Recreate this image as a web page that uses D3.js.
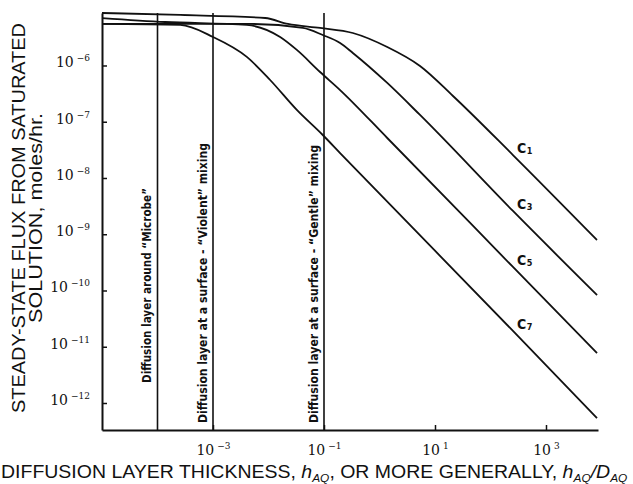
<!DOCTYPE html>
<html lang="en">
<head>
<meta charset="UTF-8">
<title>Steady-state flux vs diffusion layer thickness</title>
<script src="https://d3js.org/d3.v7.min.js"></script>
<style>
    body {
        margin: 0;
        background-color: #ffffff;
    }
    svg {
        display: block;
    }
    .axis path, .axis line {
        stroke: #111;
    }
    .axis path {
        stroke-width: 2;
    }
    .axis line {
        stroke-width: 1.5;
    }
    .tick-label {
        font-family: "DejaVu Serif", "Liberation Serif", serif;
        font-size: 14px;
        fill: #111;
    }
    .curve {
        fill: none;
        stroke: #111;
        stroke-width: 1.8;
    }
    .region-line {
        stroke: #111;
        stroke-width: 1.6;
    }
    .region-label, .curve-label {
        font-family: "DejaVu Sans Condensed", "Liberation Sans Narrow", sans-serif;
        font-weight: bold;
        fill: #111;
    }
    .axis-title {
        font-family: "Liberation Sans", Arial, sans-serif;
        fill: #111;
    }
</style>
</head>
<body>
<svg width="633" height="484"></svg>
<script>
    // Data (h in cm or h/D, flux in moles/hr)
    const hTicks = [1e-3, 1e-1, 1e1, 1e3];
    const hTickExp = ["\u22123", "\u22121", "1", "3"];
    const fluxTicks = [1e-6, 1e-7, 1e-8, 1e-9, 1e-10, 1e-11, 1e-12];
    const fluxTickExp = ["\u22126", "\u22127", "\u22128", "\u22129", "\u221210", "\u221211", "\u221212"];

    const regionH = [1e-4, 1e-3, 1e-1];
    const regionLabels = [
        "Diffusion layer around \u201CMicrobe\u201D",
        "Diffusion layer at a surface - \u201CViolent\u201D mixing",
        "Diffusion layer at a surface - \u201CGentle\u201D mixing"
    ];

    const curveNames = ["1", "3", "5", "7"];
    const c1 = [[1e-5, 8.57e-6], [2.57e-4, 7.91e-6], [8.7e-3, 6.98e-6], [2.24e-2, 5.47e-6], [8.5e-2, 4.65e-6],
                [0.331, 3.78e-6], [1.38, 2.13e-6], [5.37, 9.8e-7], [21.1, 2.87e-7],
                [254, 2.56e-8], [8300, 7.9e-10]];
    const c3 = [[1e-5, 5.47e-6], [4.68e-3, 5.47e-6], [4.17e-2, 4.65e-6], [9.5e-2, 3.48e-6], [0.195, 2.51e-6],
                [0.331, 1.67e-6], [1.38, 4.89e-7], [5.37, 1.32e-7], [254, 2.59e-9], [8300, 8.3e-11]];
    const c5 = [[1e-5, 6.98e-6], [1.38e-4, 5.93e-6], [4.07e-3, 5.25e-6], [1.62e-2, 3.21e-6], [3.24e-2, 1.89e-6],
                [8.5e-2, 7.66e-7], [0.195, 3.66e-7], [1.38, 5.14e-8], [254, 2.62e-10], [8300, 7.7e-12]];
    const c7 = [[1e-5, 5.47e-6], [2.57e-4, 5.25e-6], [1e-3, 3.21e-6], [4.07e-3, 1.42e-6], [1.07e-2, 5.52e-7],
                [3.24e-2, 1.62e-7], [9.5e-2, 5.81e-8], [0.195, 2.78e-8], [254, 1.91e-11], [8300, 5.4e-13]];
    const curves = [c1, c3, c5, c7];

    // Layout
    const margin = {top: 13, right: 35, bottom: 54, left: 102},
          width = 633 - margin.left - margin.right,
          height = 484 - margin.top - margin.bottom;

    const root = d3.select("svg");
    const svg = root.append("g")
                    .attr("transform", `translate(${margin.left},${margin.top})`);

    const x = d3.scaleLog()
                .domain([1e-5, Math.pow(10, 3.937)])
                .range([0, width]);

    const y = d3.scaleLog()
                .domain([Math.pow(10, -12.48), Math.pow(10, -5.067)])
                .range([height, 0]);

    // superscripted "10^n" labels
    function powerLabel(sel, exps) {
        sel.text(null);
        sel.append("tspan").text("10");
        sel.append("tspan")
           .attr("font-size", "9px")
           .attr("dx", 3)
           .attr("dy", -6)
           .text((d, i) => exps[i]);
    }

    // Y axis
    svg.append("g")
       .attr("class", "axis")
       .call(d3.axisLeft(y)
               .tickValues(fluxTicks)
               .tickSize(-5)
               .tickSizeOuter(0)
               .tickPadding(12))
       .call(g => g.selectAll(".tick text")
                   .attr("class", "tick-label")
                   .attr("font-family", null)
                   .attr("font-size", null)
                   .attr("dy", "0.1em")
                   .each(function(d, i) { powerLabel(d3.select(this), [fluxTickExp[i]]); }));

    // X axis
    svg.append("g")
       .attr("class", "axis")
       .attr("transform", `translate(0,${height})`)
       .call(d3.axisBottom(x)
               .tickValues(hTicks)
               .tickSize(-5)
               .tickSizeOuter(0)
               .tickPadding(15))
       .call(g => g.selectAll(".tick text")
                   .attr("class", "tick-label")
                   .attr("font-family", null)
                   .attr("font-size", null)
                   .attr("dy", "0.72em")
                   .each(function(d, i) { powerLabel(d3.select(this), [hTickExp[i]]); }));

    // region boundaries
    svg.selectAll(".region-line")
       .data(regionH)
       .enter()
       .append("line")
       .attr("class", "region-line")
       .attr("x1", d => x(d))
       .attr("x2", d => x(d))
       .attr("y1", 0)
       .attr("y2", height);

    const labelBottom = [383, 423, 423];
    const labelLength = [195, 280, 278];
    svg.selectAll(".region-label")
       .data(regionLabels)
       .enter()
       .append("text")
       .attr("class", "region-label")
       .attr("font-size", "11.5px")
       .attr("transform", (d, i) => `translate(${x(regionH[i]) - 6},${labelBottom[i] - margin.top}) rotate(-90)`)
       .attr("textLength", (d, i) => labelLength[i])
       .attr("lengthAdjust", "spacingAndGlyphs")
       .text(d => d);

    // curves
    const line = d3.line()
                   .x(d => x(d[0]))
                   .y(d => y(d[1]))
                   .curve(d3.curveMonotoneX);

    svg.selectAll(".curve")
       .data(curves)
       .enter()
       .append("path")
       .attr("class", "curve")
       .attr("d", line);

    // curve labels, just right of each line
    function fluxAt(pts, h) {
        for (let i = 1; i < pts.length; i++) {
            if (pts[i][0] >= h) {
                const t = (Math.log10(h) - Math.log10(pts[i - 1][0])) / (Math.log10(pts[i][0]) - Math.log10(pts[i - 1][0]));
                return Math.pow(10, Math.log10(pts[i - 1][1]) + t * (Math.log10(pts[i][1]) - Math.log10(pts[i - 1][1])));
            }
        }
        return pts[pts.length - 1][1];
    }
    const labelH = x.invert(415);
    const curveLabels = svg.selectAll(".curve-label")
       .data(curves)
       .enter()
       .append("text")
       .attr("class", "curve-label")
       .attr("x", x(labelH))
       .attr("y", d => y(fluxAt(d, labelH)) - 6);
    curveLabels.append("tspan")
               .attr("font-size", "14px")
               .text("C");
    curveLabels.append("tspan")
               .attr("font-size", "9px")
               .attr("dx", 0.5)
               .attr("dy", 1)
               .text((d, i) => curveNames[i]);

    // Y axis title
    root.append("text")
        .attr("class", "axis-title")
        .attr("font-size", "17.5px")
        .attr("text-anchor", "middle")
        .attr("transform", "translate(25,218) rotate(-90)")
        .attr("textLength", 390)
        .attr("lengthAdjust", "spacingAndGlyphs")
        .text("STEADY-STATE FLUX FROM SATURATED");

    root.append("text")
        .attr("class", "axis-title")
        .attr("font-size", "17.5px")
        .attr("text-anchor", "middle")
        .attr("transform", "translate(42,218) rotate(-90)")
        .attr("textLength", 210)
        .attr("lengthAdjust", "spacingAndGlyphs")
        .text("SOLUTION, moles/hr.");

    // X axis title
    const xt = root.append("text")
                   .attr("class", "axis-title")
                   .attr("font-size", "18px");
    xt.append("tspan").text("DIFFUSION LAYER THICKNESS, ");
    xt.append("tspan").attr("font-style", "italic").text("h");
    xt.append("tspan").attr("font-style", "italic").attr("font-size", "11px").attr("dy", 4).text("AQ");
    xt.append("tspan").attr("dy", -4).text(", OR MORE GENERALLY, ");
    xt.append("tspan").attr("font-style", "italic").text("h");
    xt.append("tspan").attr("font-style", "italic").attr("font-size", "11px").attr("dy", 4).text("AQ");
    xt.append("tspan").attr("font-style", "italic").attr("dy", -4).text("/D");
    xt.append("tspan").attr("font-style", "italic").attr("font-size", "11px").attr("dy", 4).text("AQ");
    const xtw = xt.node().getComputedTextLength();
    xt.attr("transform", `translate(1,478) scale(${627 / xtw},1)`);
</script>
</body>
</html>
